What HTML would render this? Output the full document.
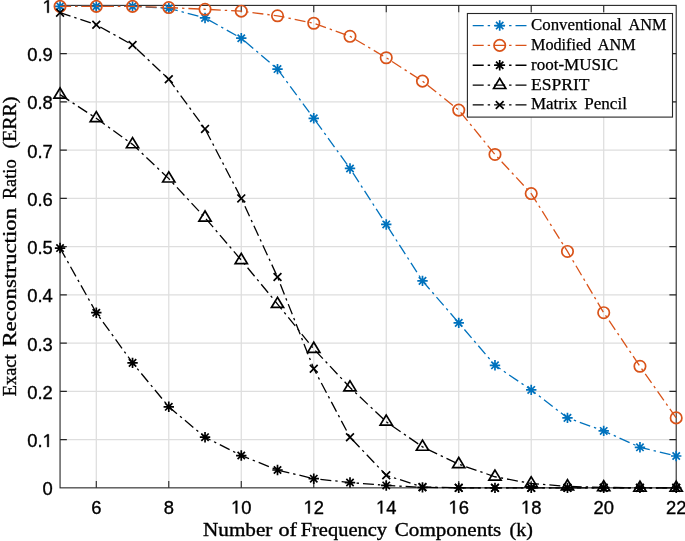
<!DOCTYPE html>
<html><head><meta charset="utf-8"><title>ERR vs k</title>
<style>
html,body{margin:0;padding:0;background:#fff;}
body{width:685px;height:541px;overflow:hidden;}
svg{display:block;will-change:transform;}
.tk{font-family:"Liberation Sans",sans-serif;font-size:18.4px;fill:#000;stroke:#000;stroke-width:0.35px;}
.lb{font-family:"Liberation Serif",serif;font-size:18.6px;fill:#000;stroke:#000;stroke-width:0.35px;}
.lg{font-family:"Liberation Serif",serif;font-size:16.2px;fill:#000;stroke:#000;stroke-width:0.25px;}
</style></head><body>
<svg width="685" height="541" viewBox="0 0 685 541">
<rect width="685" height="541" fill="#fff"/>
<path d="M96.29 5.4V487.85M168.78 5.4V487.85M241.27 5.4V487.85M313.76 5.4V487.85M386.25 5.4V487.85M458.74 5.4V487.85M531.22 5.4V487.85M603.71 5.4V487.85M60.05 439.61H676.2M60.05 391.36H676.2M60.05 343.12H676.2M60.05 294.87H676.2M60.05 246.62H676.2M60.05 198.38H676.2M60.05 150.13H676.2M60.05 101.89H676.2M60.05 53.64H676.2" stroke="#dedede" stroke-width="1.25" fill="none"/>
<rect x="60.05" y="5.4" width="616.1500000000001" height="482.45000000000005" fill="none" stroke="#262626" stroke-width="1.1"/>
<path d="M96.29 487.85v-6.8M96.29 5.4v6.8M168.78 487.85v-6.8M168.78 5.4v6.8M241.27 487.85v-6.8M241.27 5.4v6.8M313.76 487.85v-6.8M313.76 5.4v6.8M386.25 487.85v-6.8M386.25 5.4v6.8M458.74 487.85v-6.8M458.74 5.4v6.8M531.22 487.85v-6.8M531.22 5.4v6.8M603.71 487.85v-6.8M603.71 5.4v6.8M60.05 439.61h6.8M676.2 439.61h-6.8M60.05 391.36h6.8M676.2 391.36h-6.8M60.05 343.12h6.8M676.2 343.12h-6.8M60.05 294.87h6.8M676.2 294.87h-6.8M60.05 246.62h6.8M676.2 246.62h-6.8M60.05 198.38h6.8M676.2 198.38h-6.8M60.05 150.13h6.8M676.2 150.13h-6.8M60.05 101.89h6.8M676.2 101.89h-6.8M60.05 53.64h6.8M676.2 53.64h-6.8" stroke="#262626" stroke-width="1.1" fill="none"/>
<text x="91.18" y="513.50" class="tk">6</text>
<text x="163.67" y="513.50" class="tk">8</text>
<path transform="translate(231.04 513.50) scale(0.008984 -0.008984)" d="M515 0V1237L197 1010V1180L530 1409H696V0Z" fill="#000" stroke="#000" stroke-width="39.0"/>
<text x="241.27" y="513.50" class="tk">0</text>
<path transform="translate(303.53 513.50) scale(0.008984 -0.008984)" d="M515 0V1237L197 1010V1180L530 1409H696V0Z" fill="#000" stroke="#000" stroke-width="39.0"/>
<text x="313.76" y="513.50" class="tk">2</text>
<path transform="translate(376.01 513.50) scale(0.008984 -0.008984)" d="M515 0V1237L197 1010V1180L530 1409H696V0Z" fill="#000" stroke="#000" stroke-width="39.0"/>
<text x="386.25" y="513.50" class="tk">4</text>
<path transform="translate(448.50 513.50) scale(0.008984 -0.008984)" d="M515 0V1237L197 1010V1180L530 1409H696V0Z" fill="#000" stroke="#000" stroke-width="39.0"/>
<text x="458.74" y="513.50" class="tk">6</text>
<path transform="translate(520.99 513.50) scale(0.008984 -0.008984)" d="M515 0V1237L197 1010V1180L530 1409H696V0Z" fill="#000" stroke="#000" stroke-width="39.0"/>
<text x="531.22" y="513.50" class="tk">8</text>
<text x="593.48" y="513.50" class="tk">20</text>
<text x="665.97" y="513.50" class="tk">22</text>
<text x="42.57" y="495.25" class="tk">0</text>
<text x="27.22" y="447.00" class="tk">0.</text>
<path transform="translate(42.57 447.00) scale(0.008984 -0.008984)" d="M515 0V1237L197 1010V1180L530 1409H696V0Z" fill="#000" stroke="#000" stroke-width="39.0"/>
<text x="27.22" y="398.76" class="tk">0.2</text>
<text x="27.22" y="350.51" class="tk">0.3</text>
<text x="27.22" y="302.27" class="tk">0.4</text>
<text x="27.22" y="254.03" class="tk">0.5</text>
<text x="27.22" y="205.78" class="tk">0.6</text>
<text x="27.22" y="157.53" class="tk">0.7</text>
<text x="27.22" y="109.29" class="tk">0.8</text>
<text x="27.22" y="61.04" class="tk">0.9</text>
<path transform="translate(42.57 12.80) scale(0.008984 -0.008984)" d="M515 0V1237L197 1010V1180L530 1409H696V0Z" fill="#000" stroke="#000" stroke-width="39.0"/>
<text x="203.00" y="535.6" textLength="69.40" lengthAdjust="spacingAndGlyphs" class="lb">Number</text>
<text x="278.40" y="535.6" textLength="18.50" lengthAdjust="spacingAndGlyphs" class="lb">of</text>
<text x="300.70" y="535.6" textLength="86.30" lengthAdjust="spacingAndGlyphs" class="lb">Frequency</text>
<text x="394.80" y="535.6" textLength="106.50" lengthAdjust="spacingAndGlyphs" class="lb">Components</text>
<text x="509.60" y="535.6" textLength="23.20" lengthAdjust="spacingAndGlyphs" class="lb">(k)</text>
<text transform="translate(15.7 396.30) rotate(-90)" textLength="41.90" lengthAdjust="spacingAndGlyphs" class="lb">Exact</text>
<text transform="translate(15.7 346.70) rotate(-90)" textLength="139.00" lengthAdjust="spacingAndGlyphs" class="lb">Reconstruction</text>
<text transform="translate(15.7 199.10) rotate(-90)" textLength="39.70" lengthAdjust="spacingAndGlyphs" class="lb">Ratio</text>
<text transform="translate(15.7 148.60) rotate(-90)" textLength="52.10" lengthAdjust="spacingAndGlyphs" class="lb">(ERR)</text>
<polyline points="60.05,6.36 96.29,6.36 132.54,6.36 168.78,8.29 205.03,17.94 241.27,38.21 277.51,69.08 313.76,118.29 350.00,168.47 386.25,224.43 422.49,280.88 458.74,322.85 494.98,365.31 531.22,389.91 567.47,417.89 603.71,430.92 639.96,447.32 676.20,456.01" fill="none" stroke="#0072bd" stroke-width="1.3" stroke-dasharray="11 4 2.4 4"/>
<path d="M54.85 6.36L65.25 6.36M56.37 2.69L63.73 10.04M60.05 1.16L60.05 11.56M63.73 2.69L56.37 10.04" stroke="#0072bd" stroke-width="1.7" fill="none"/>
<path d="M91.09 6.36L101.49 6.36M92.62 2.69L99.97 10.04M96.29 1.16L96.29 11.56M99.97 2.69L92.62 10.04" stroke="#0072bd" stroke-width="1.7" fill="none"/>
<path d="M127.34 6.36L137.74 6.36M128.86 2.69L136.22 10.04M132.54 1.16L132.54 11.56M136.22 2.69L128.86 10.04" stroke="#0072bd" stroke-width="1.7" fill="none"/>
<path d="M163.58 8.29L173.98 8.29M165.11 4.62L172.46 11.97M168.78 3.09L168.78 13.49M172.46 4.62L165.11 11.97" stroke="#0072bd" stroke-width="1.7" fill="none"/>
<path d="M199.83 17.94L210.23 17.94M201.35 14.27L208.70 21.62M205.03 12.74L205.03 23.14M208.70 14.27L201.35 21.62" stroke="#0072bd" stroke-width="1.7" fill="none"/>
<path d="M236.07 38.21L246.47 38.21M237.59 34.53L244.95 41.88M241.27 33.01L241.27 43.41M244.95 34.53L237.59 41.88" stroke="#0072bd" stroke-width="1.7" fill="none"/>
<path d="M272.31 69.08L282.71 69.08M273.84 65.41L281.19 72.76M277.51 63.88L277.51 74.28M281.19 65.41L273.84 72.76" stroke="#0072bd" stroke-width="1.7" fill="none"/>
<path d="M308.56 118.29L318.96 118.29M310.08 114.62L317.44 121.97M313.76 113.09L313.76 123.49M317.44 114.62L310.08 121.97" stroke="#0072bd" stroke-width="1.7" fill="none"/>
<path d="M344.80 168.47L355.20 168.47M346.33 164.79L353.68 172.15M350.00 163.27L350.00 173.67M353.68 164.79L346.33 172.15" stroke="#0072bd" stroke-width="1.7" fill="none"/>
<path d="M381.05 224.43L391.45 224.43M382.57 220.76L389.92 228.11M386.25 219.23L386.25 229.63M389.92 220.76L382.57 228.11" stroke="#0072bd" stroke-width="1.7" fill="none"/>
<path d="M417.29 280.88L427.69 280.88M418.81 277.20L426.17 284.56M422.49 275.68L422.49 286.08M426.17 277.20L418.81 284.56" stroke="#0072bd" stroke-width="1.7" fill="none"/>
<path d="M453.54 322.85L463.94 322.85M455.06 319.18L462.41 326.53M458.74 317.65L458.74 328.05M462.41 319.18L455.06 326.53" stroke="#0072bd" stroke-width="1.7" fill="none"/>
<path d="M489.78 365.31L500.18 365.31M491.30 361.63L498.66 368.98M494.98 360.11L494.98 370.51M498.66 361.63L491.30 368.98" stroke="#0072bd" stroke-width="1.7" fill="none"/>
<path d="M526.02 389.91L536.42 389.91M527.55 386.24L534.90 393.59M531.22 384.71L531.22 395.11M534.90 386.24L527.55 393.59" stroke="#0072bd" stroke-width="1.7" fill="none"/>
<path d="M562.27 417.89L572.67 417.89M563.79 414.22L571.14 421.57M567.47 412.69L567.47 423.09M571.14 414.22L563.79 421.57" stroke="#0072bd" stroke-width="1.7" fill="none"/>
<path d="M598.51 430.92L608.91 430.92M600.03 427.24L607.39 434.60M603.71 425.72L603.71 436.12M607.39 427.24L600.03 434.60" stroke="#0072bd" stroke-width="1.7" fill="none"/>
<path d="M634.76 447.32L645.16 447.32M636.28 443.65L643.63 451.00M639.96 442.12L639.96 452.52M643.63 443.65L636.28 451.00" stroke="#0072bd" stroke-width="1.7" fill="none"/>
<path d="M671.00 456.01L681.40 456.01M672.52 452.33L679.88 459.69M676.20 450.81L676.20 461.21M679.88 452.33L672.52 459.69" stroke="#0072bd" stroke-width="1.7" fill="none"/>
<polyline points="60.05,6.36 96.29,6.36 132.54,6.36 168.78,7.57 205.03,9.26 241.27,11.19 277.51,15.77 313.76,23.25 350.00,36.28 386.25,57.75 422.49,81.14 458.74,110.09 494.98,154.48 531.22,193.56 567.47,251.45 603.71,312.72 639.96,366.27 676.20,417.89" fill="none" stroke="#d95319" stroke-width="1.3" stroke-dasharray="11 4 2.4 4"/>
<circle cx="60.05" cy="6.36" r="5.7" stroke="#d95319" stroke-width="1.7" fill="none"/>
<circle cx="96.29" cy="6.36" r="5.7" stroke="#d95319" stroke-width="1.7" fill="none"/>
<circle cx="132.54" cy="6.36" r="5.7" stroke="#d95319" stroke-width="1.7" fill="none"/>
<circle cx="168.78" cy="7.57" r="5.7" stroke="#d95319" stroke-width="1.7" fill="none"/>
<circle cx="205.03" cy="9.26" r="5.7" stroke="#d95319" stroke-width="1.7" fill="none"/>
<circle cx="241.27" cy="11.19" r="5.7" stroke="#d95319" stroke-width="1.7" fill="none"/>
<circle cx="277.51" cy="15.77" r="5.7" stroke="#d95319" stroke-width="1.7" fill="none"/>
<circle cx="313.76" cy="23.25" r="5.7" stroke="#d95319" stroke-width="1.7" fill="none"/>
<circle cx="350.00" cy="36.28" r="5.7" stroke="#d95319" stroke-width="1.7" fill="none"/>
<circle cx="386.25" cy="57.75" r="5.7" stroke="#d95319" stroke-width="1.7" fill="none"/>
<circle cx="422.49" cy="81.14" r="5.7" stroke="#d95319" stroke-width="1.7" fill="none"/>
<circle cx="458.74" cy="110.09" r="5.7" stroke="#d95319" stroke-width="1.7" fill="none"/>
<circle cx="494.98" cy="154.48" r="5.7" stroke="#d95319" stroke-width="1.7" fill="none"/>
<circle cx="531.22" cy="193.56" r="5.7" stroke="#d95319" stroke-width="1.7" fill="none"/>
<circle cx="567.47" cy="251.45" r="5.7" stroke="#d95319" stroke-width="1.7" fill="none"/>
<circle cx="603.71" cy="312.72" r="5.7" stroke="#d95319" stroke-width="1.7" fill="none"/>
<circle cx="639.96" cy="366.27" r="5.7" stroke="#d95319" stroke-width="1.7" fill="none"/>
<circle cx="676.20" cy="417.89" r="5.7" stroke="#d95319" stroke-width="1.7" fill="none"/>
<polyline points="60.05,248.07 96.29,312.72 132.54,362.90 168.78,406.80 205.03,437.19 241.27,455.53 277.51,470.00 313.76,478.68 350.00,482.54 386.25,485.44 422.49,487.37 458.74,487.85 494.98,487.85 531.22,487.85 567.47,487.85 603.71,487.85 639.96,487.85 676.20,487.85" fill="none" stroke="#000000" stroke-width="1.3" stroke-dasharray="11 4 2.4 4"/>
<path d="M54.85 248.07L65.25 248.07M56.37 244.40L63.73 251.75M60.05 242.87L60.05 253.27M63.73 244.40L56.37 251.75" stroke="#000000" stroke-width="1.7" fill="none"/>
<path d="M91.09 312.72L101.49 312.72M92.62 309.04L99.97 316.40M96.29 307.52L96.29 317.92M99.97 309.04L92.62 316.40" stroke="#000000" stroke-width="1.7" fill="none"/>
<path d="M127.34 362.90L137.74 362.90M128.86 359.22L136.22 366.57M132.54 357.70L132.54 368.10M136.22 359.22L128.86 366.57" stroke="#000000" stroke-width="1.7" fill="none"/>
<path d="M163.58 406.80L173.98 406.80M165.11 403.12L172.46 410.48M168.78 401.60L168.78 412.00M172.46 403.12L165.11 410.48" stroke="#000000" stroke-width="1.7" fill="none"/>
<path d="M199.83 437.19L210.23 437.19M201.35 433.52L208.70 440.87M205.03 431.99L205.03 442.39M208.70 433.52L201.35 440.87" stroke="#000000" stroke-width="1.7" fill="none"/>
<path d="M236.07 455.53L246.47 455.53M237.59 451.85L244.95 459.20M241.27 450.33L241.27 460.73M244.95 451.85L237.59 459.20" stroke="#000000" stroke-width="1.7" fill="none"/>
<path d="M272.31 470.00L282.71 470.00M273.84 466.32L281.19 473.68M277.51 464.80L277.51 475.20M281.19 466.32L273.84 473.68" stroke="#000000" stroke-width="1.7" fill="none"/>
<path d="M308.56 478.68L318.96 478.68M310.08 475.01L317.44 482.36M313.76 473.48L313.76 483.88M317.44 475.01L310.08 482.36" stroke="#000000" stroke-width="1.7" fill="none"/>
<path d="M344.80 482.54L355.20 482.54M346.33 478.87L353.68 486.22M350.00 477.34L350.00 487.74M353.68 478.87L346.33 486.22" stroke="#000000" stroke-width="1.7" fill="none"/>
<path d="M381.05 485.44L391.45 485.44M382.57 481.76L389.92 489.11M386.25 480.24L386.25 490.64M389.92 481.76L382.57 489.11" stroke="#000000" stroke-width="1.7" fill="none"/>
<path d="M417.29 487.37L427.69 487.37M418.81 483.69L426.17 491.04M422.49 482.17L422.49 492.57M426.17 483.69L418.81 491.04" stroke="#000000" stroke-width="1.7" fill="none"/>
<path d="M453.54 487.85L463.94 487.85M455.06 484.17L462.41 491.53M458.74 482.65L458.74 493.05M462.41 484.17L455.06 491.53" stroke="#000000" stroke-width="1.7" fill="none"/>
<path d="M489.78 487.85L500.18 487.85M491.30 484.17L498.66 491.53M494.98 482.65L494.98 493.05M498.66 484.17L491.30 491.53" stroke="#000000" stroke-width="1.7" fill="none"/>
<path d="M526.02 487.85L536.42 487.85M527.55 484.17L534.90 491.53M531.22 482.65L531.22 493.05M534.90 484.17L527.55 491.53" stroke="#000000" stroke-width="1.7" fill="none"/>
<path d="M562.27 487.85L572.67 487.85M563.79 484.17L571.14 491.53M567.47 482.65L567.47 493.05M571.14 484.17L563.79 491.53" stroke="#000000" stroke-width="1.7" fill="none"/>
<path d="M598.51 487.85L608.91 487.85M600.03 484.17L607.39 491.53M603.71 482.65L603.71 493.05M607.39 484.17L600.03 491.53" stroke="#000000" stroke-width="1.7" fill="none"/>
<path d="M634.76 487.85L645.16 487.85M636.28 484.17L643.63 491.53M639.96 482.65L639.96 493.05M643.63 484.17L636.28 491.53" stroke="#000000" stroke-width="1.7" fill="none"/>
<path d="M671.00 487.85L681.40 487.85M672.52 484.17L679.88 491.53M676.20 482.65L676.20 493.05M679.88 484.17L672.52 491.53" stroke="#000000" stroke-width="1.7" fill="none"/>
<polyline points="60.05,94.65 96.29,118.29 132.54,144.35 168.78,178.60 205.03,217.68 241.27,260.13 277.51,304.04 313.76,348.90 350.00,387.50 386.25,421.75 422.49,446.84 458.74,464.21 494.98,476.75 531.22,483.51 567.47,486.40 603.71,487.37 639.96,487.85 676.20,487.85" fill="none" stroke="#000000" stroke-width="1.3" stroke-dasharray="11 4 2.4 4"/>
<polygon points="60.05,87.95 53.95,98.05 66.15,98.05" stroke="#000000" stroke-width="1.7" fill="none" stroke-linejoin="miter"/>
<polygon points="96.29,111.59 90.19,121.69 102.39,121.69" stroke="#000000" stroke-width="1.7" fill="none" stroke-linejoin="miter"/>
<polygon points="132.54,137.65 126.44,147.75 138.64,147.75" stroke="#000000" stroke-width="1.7" fill="none" stroke-linejoin="miter"/>
<polygon points="168.78,171.90 162.68,182.00 174.88,182.00" stroke="#000000" stroke-width="1.7" fill="none" stroke-linejoin="miter"/>
<polygon points="205.03,210.98 198.93,221.08 211.13,221.08" stroke="#000000" stroke-width="1.7" fill="none" stroke-linejoin="miter"/>
<polygon points="241.27,253.43 235.17,263.53 247.37,263.53" stroke="#000000" stroke-width="1.7" fill="none" stroke-linejoin="miter"/>
<polygon points="277.51,297.34 271.41,307.44 283.61,307.44" stroke="#000000" stroke-width="1.7" fill="none" stroke-linejoin="miter"/>
<polygon points="313.76,342.20 307.66,352.30 319.86,352.30" stroke="#000000" stroke-width="1.7" fill="none" stroke-linejoin="miter"/>
<polygon points="350.00,380.80 343.90,390.90 356.10,390.90" stroke="#000000" stroke-width="1.7" fill="none" stroke-linejoin="miter"/>
<polygon points="386.25,415.05 380.15,425.15 392.35,425.15" stroke="#000000" stroke-width="1.7" fill="none" stroke-linejoin="miter"/>
<polygon points="422.49,440.14 416.39,450.24 428.59,450.24" stroke="#000000" stroke-width="1.7" fill="none" stroke-linejoin="miter"/>
<polygon points="458.74,457.51 452.64,467.61 464.84,467.61" stroke="#000000" stroke-width="1.7" fill="none" stroke-linejoin="miter"/>
<polygon points="494.98,470.05 488.88,480.15 501.08,480.15" stroke="#000000" stroke-width="1.7" fill="none" stroke-linejoin="miter"/>
<polygon points="531.22,476.81 525.12,486.91 537.32,486.91" stroke="#000000" stroke-width="1.7" fill="none" stroke-linejoin="miter"/>
<polygon points="567.47,479.70 561.37,489.80 573.57,489.80" stroke="#000000" stroke-width="1.7" fill="none" stroke-linejoin="miter"/>
<polygon points="603.71,480.67 597.61,490.77 609.81,490.77" stroke="#000000" stroke-width="1.7" fill="none" stroke-linejoin="miter"/>
<polygon points="639.96,481.15 633.86,491.25 646.06,491.25" stroke="#000000" stroke-width="1.7" fill="none" stroke-linejoin="miter"/>
<polygon points="676.20,481.15 670.10,491.25 682.30,491.25" stroke="#000000" stroke-width="1.7" fill="none" stroke-linejoin="miter"/>
<polyline points="60.05,12.64 96.29,24.70 132.54,44.96 168.78,79.21 205.03,128.91 241.27,198.38 277.51,277.02 313.76,368.68 350.00,437.19 386.25,475.31 422.49,486.89 458.74,487.85 494.98,487.85 531.22,487.85 567.47,487.85 603.71,487.85 639.96,487.85 676.20,487.85" fill="none" stroke="#000000" stroke-width="1.3" stroke-dasharray="11 4 2.4 4"/>
<path d="M56.15 8.74L63.95 16.54M56.15 16.54L63.95 8.74" stroke="#000000" stroke-width="1.7" fill="none"/>
<path d="M92.39 20.80L100.19 28.60M92.39 28.60L100.19 20.80" stroke="#000000" stroke-width="1.7" fill="none"/>
<path d="M128.64 41.06L136.44 48.86M128.64 48.86L136.44 41.06" stroke="#000000" stroke-width="1.7" fill="none"/>
<path d="M164.88 75.31L172.68 83.11M164.88 83.11L172.68 75.31" stroke="#000000" stroke-width="1.7" fill="none"/>
<path d="M201.13 125.01L208.93 132.81M201.13 132.81L208.93 125.01" stroke="#000000" stroke-width="1.7" fill="none"/>
<path d="M237.37 194.48L245.17 202.28M237.37 202.28L245.17 194.48" stroke="#000000" stroke-width="1.7" fill="none"/>
<path d="M273.61 273.12L281.41 280.92M273.61 280.92L281.41 273.12" stroke="#000000" stroke-width="1.7" fill="none"/>
<path d="M309.86 364.78L317.66 372.58M309.86 372.58L317.66 364.78" stroke="#000000" stroke-width="1.7" fill="none"/>
<path d="M346.10 433.29L353.90 441.09M346.10 441.09L353.90 433.29" stroke="#000000" stroke-width="1.7" fill="none"/>
<path d="M382.35 471.41L390.15 479.21M382.35 479.21L390.15 471.41" stroke="#000000" stroke-width="1.7" fill="none"/>
<path d="M418.59 482.99L426.39 490.79M418.59 490.79L426.39 482.99" stroke="#000000" stroke-width="1.7" fill="none"/>
<path d="M454.84 483.95L462.64 491.75M454.84 491.75L462.64 483.95" stroke="#000000" stroke-width="1.7" fill="none"/>
<path d="M491.08 483.95L498.88 491.75M491.08 491.75L498.88 483.95" stroke="#000000" stroke-width="1.7" fill="none"/>
<path d="M527.32 483.95L535.12 491.75M527.32 491.75L535.12 483.95" stroke="#000000" stroke-width="1.7" fill="none"/>
<path d="M563.57 483.95L571.37 491.75M563.57 491.75L571.37 483.95" stroke="#000000" stroke-width="1.7" fill="none"/>
<path d="M599.81 483.95L607.61 491.75M599.81 491.75L607.61 483.95" stroke="#000000" stroke-width="1.7" fill="none"/>
<path d="M636.06 483.95L643.86 491.75M636.06 491.75L643.86 483.95" stroke="#000000" stroke-width="1.7" fill="none"/>
<path d="M672.30 483.95L680.10 491.75M672.30 491.75L680.10 483.95" stroke="#000000" stroke-width="1.7" fill="none"/>
<rect x="467.4" y="13.5" width="205.10000000000002" height="103.6" fill="#fff" stroke="#262626" stroke-width="1.1"/>
<path d="M472.7 25.55H526.5" stroke="#0072bd" stroke-width="1.3" stroke-dasharray="11 4 2.4 4" fill="none"/>
<path d="M494.50 25.55L504.90 25.55M496.02 21.87L503.38 29.23M499.70 20.35L499.70 30.75M503.38 21.87L496.02 29.23" stroke="#0072bd" stroke-width="1.7" fill="none"/>
<text x="531.00" y="29.95" textLength="90.80" lengthAdjust="spacingAndGlyphs" class="lg">Conventional</text>
<text x="628.60" y="29.95" textLength="38.00" lengthAdjust="spacingAndGlyphs" class="lg">ANM</text>
<path d="M472.7 45.4H526.5" stroke="#d95319" stroke-width="1.3" stroke-dasharray="11 4 2.4 4" fill="none"/>
<circle cx="499.70" cy="45.40" r="5.7" stroke="#d95319" stroke-width="1.7" fill="none"/>
<text x="531.00" y="49.80" textLength="60.20" lengthAdjust="spacingAndGlyphs" class="lg">Modified</text>
<text x="597.80" y="49.80" textLength="37.80" lengthAdjust="spacingAndGlyphs" class="lg">ANM</text>
<path d="M472.7 65.25H526.5" stroke="#000000" stroke-width="1.3" stroke-dasharray="11 4 2.4 4" fill="none"/>
<path d="M494.50 65.25L504.90 65.25M496.02 61.57L503.38 68.93M499.70 60.05L499.70 70.45M503.38 61.57L496.02 68.93" stroke="#000000" stroke-width="1.7" fill="none"/>
<text x="531.00" y="69.65" textLength="87.00" lengthAdjust="spacingAndGlyphs" class="lg">root-MUSIC</text>
<path d="M472.7 85.1H526.5" stroke="#000000" stroke-width="1.3" stroke-dasharray="11 4 2.4 4" fill="none"/>
<polygon points="499.70,78.40 493.60,88.50 505.80,88.50" stroke="#000000" stroke-width="1.7" fill="none" stroke-linejoin="miter"/>
<text x="531.00" y="89.50" textLength="58.50" lengthAdjust="spacingAndGlyphs" class="lg">ESPRIT</text>
<path d="M472.7 104.95H526.5" stroke="#000000" stroke-width="1.3" stroke-dasharray="11 4 2.4 4" fill="none"/>
<path d="M495.80 101.05L503.60 108.85M495.80 108.85L503.60 101.05" stroke="#000000" stroke-width="1.7" fill="none"/>
<text x="531.00" y="109.35" textLength="46.20" lengthAdjust="spacingAndGlyphs" class="lg">Matrix</text>
<text x="584.30" y="109.35" textLength="42.60" lengthAdjust="spacingAndGlyphs" class="lg">Pencil</text>
</svg>
</body></html>
